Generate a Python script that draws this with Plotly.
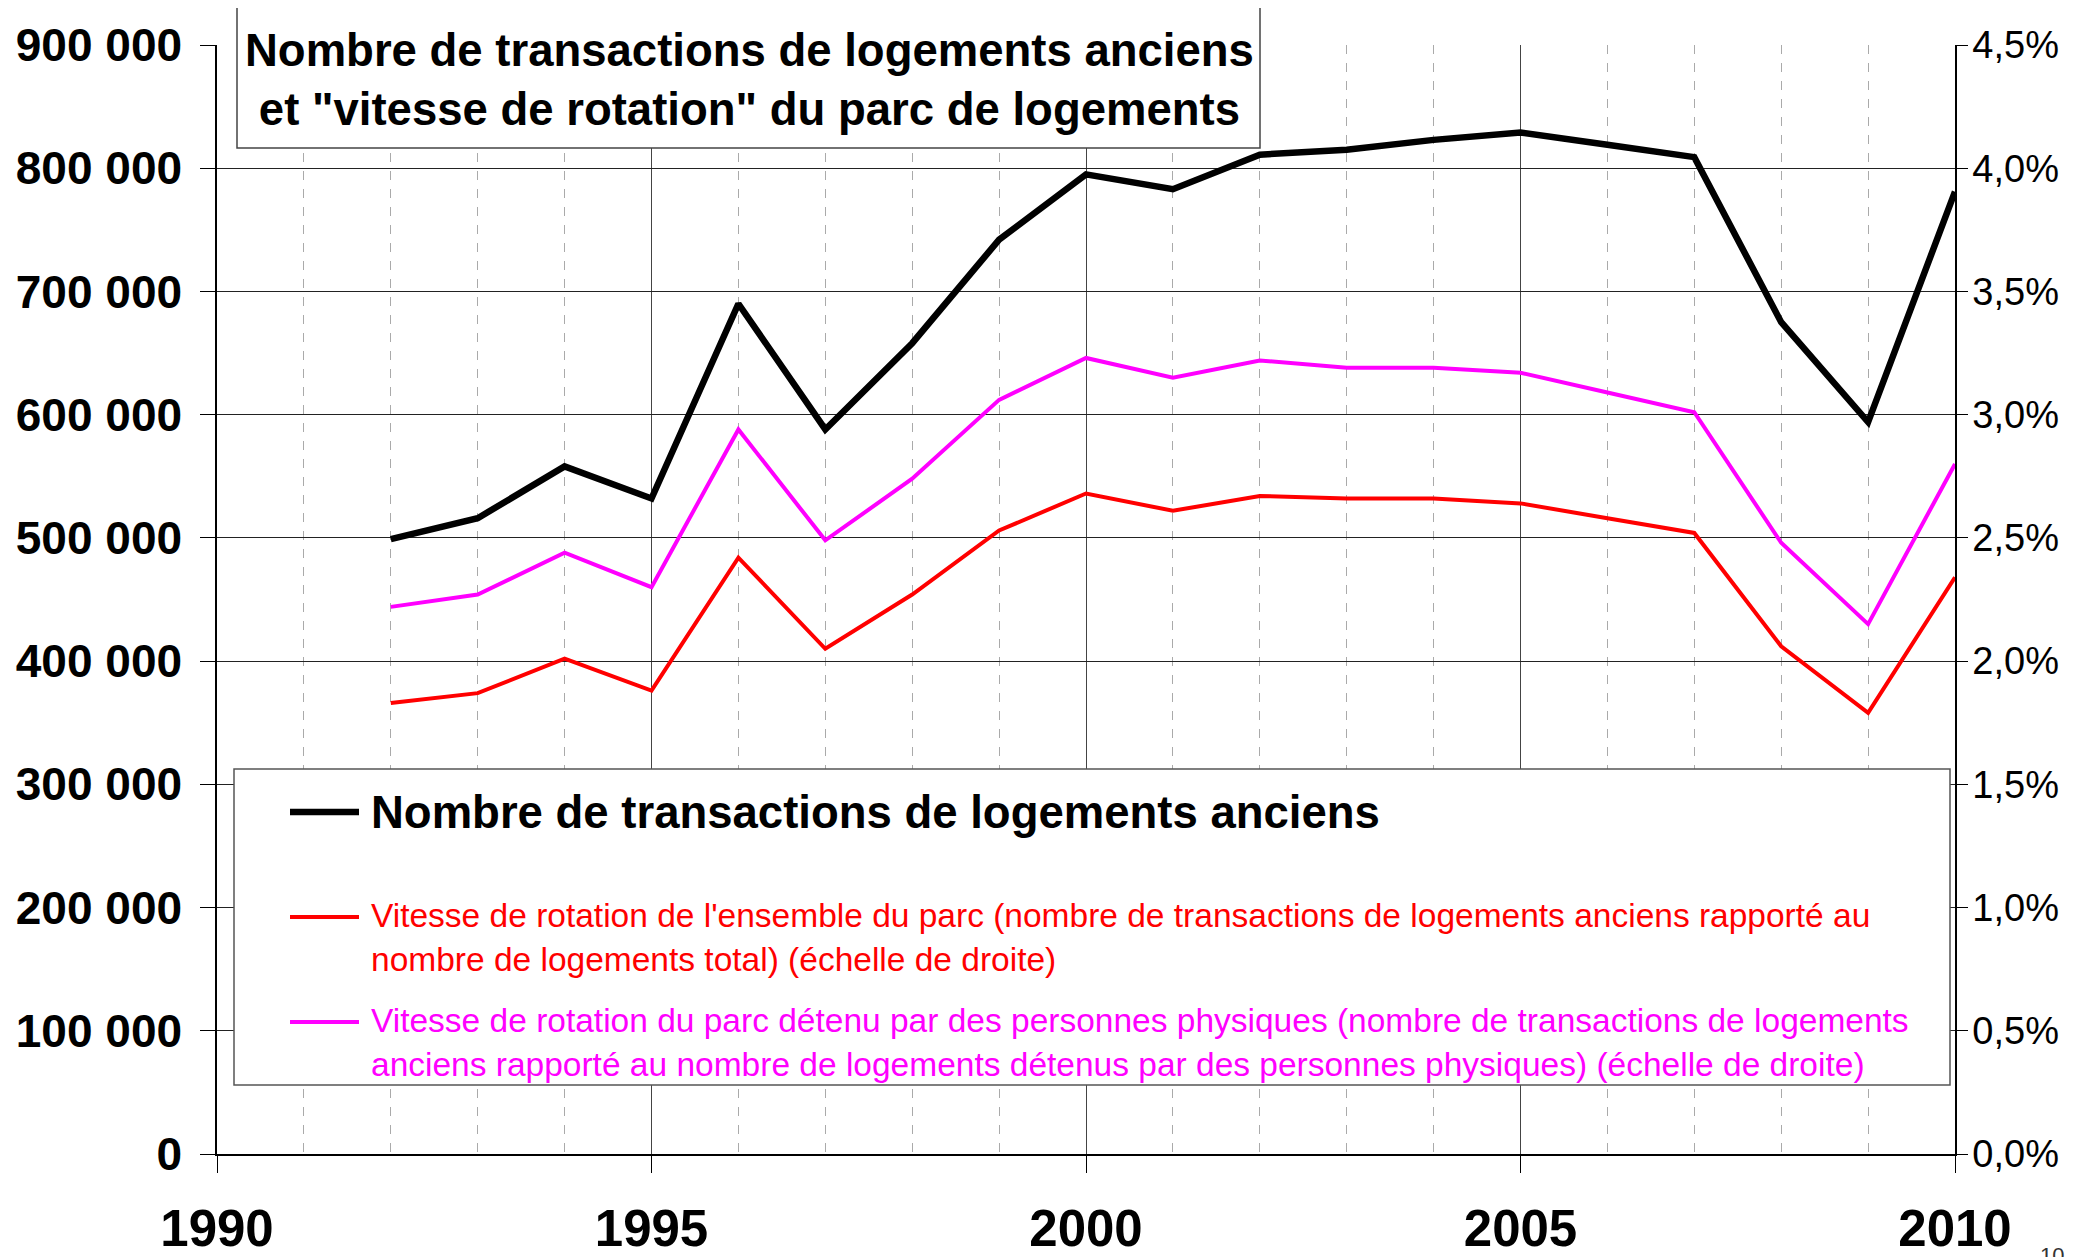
import plotly.graph_objects as go

# ---- data ----
years = list(range(1992, 2011))
transactions = [499000, 516000, 558000, 532000, 690000, 588000, 658000, 742000,
                795000, 783000, 811000, 815000, 823000, 829000, 819000, 809000,
                675000, 594000, 781000]
rotation_total = [1.83, 1.87, 2.01, 1.88, 2.42, 2.05, 2.27, 2.53,
                  2.68, 2.61, 2.67, 2.66, 2.66, 2.64, 2.58, 2.52,
                  2.06, 1.79, 2.34]
rotation_phys = [2.22, 2.27, 2.44, 2.30, 2.94, 2.49, 2.74, 3.06,
                 3.23, 3.15, 3.22, 3.19, 3.19, 3.17, 3.09, 3.01,
                 2.48, 2.15, 2.80]
x_ticks = [1990, 1995, 2000, 2005, 2010]

title_text = "Nombre de transactions de logements anciens<br>et \"vitesse de rotation\" du parc de logements"
name_trans = "Nombre de transactions de logements anciens"
name_total = ("Vitesse de rotation de l'ensemble du parc (nombre de transactions de logements anciens rapporté au<br>"
              "nombre de logements total) (échelle de droite)")
name_phys = ("Vitesse de rotation du parc détenu par des personnes physiques (nombre de transactions de logements<br>"
             "anciens rapporté au nombre de logements détenus par des personnes physiques) (échelle de droite)")

FONT = "Liberation Sans, Arial, sans-serif"
OFF = 8  # default page body margin
W, H = 2087 - OFF, 1257 - OFF
# plot area in page pixels: x 217..1955, y 45..1154
L, R = 217 - OFF, W - (1955 - OFF)
T, B = 45 - OFF, H - (1154 - OFF)
PW, PH = W - L - R, H - T - B


def px_x(p):
    return (p - OFF - L) / PW


def px_y(p):
    return (H - B - (p - OFF)) / PH


fig = go.Figure()
fig.add_trace(go.Scatter(x=years, y=rotation_total, yaxis="y2", mode="lines",
                         line=dict(color="#ff0000", width=4), name="total", showlegend=False))
fig.add_trace(go.Scatter(x=years, y=rotation_phys, yaxis="y2", mode="lines",
                         line=dict(color="#ff00ff", width=4), name="phys", showlegend=False))
fig.add_trace(go.Scatter(x=years, y=transactions, yaxis="y", mode="lines",
                         line=dict(color="#000000", width=6.5), name="trans", showlegend=False))

shapes = []
annotations = []

# title box
shapes.append(dict(type="rect", xref="paper", yref="paper",
                   x0=px_x(237), x1=px_x(1260), y0=px_y(148), y1=px_y(7),
                   line=dict(color="#444", width=1.5), fillcolor="white", layer="above"))
annotations.append(dict(xref="paper", yref="paper", x=px_x(749), y=px_y(80),
                        xanchor="center", yanchor="middle", showarrow=False,
                        text="<b>" + title_text + "</b>",
                        font=dict(family=FONT, size=45.5, color="black")))

# legend box
shapes.append(dict(type="rect", xref="paper", yref="paper",
                   x0=px_x(234), x1=px_x(1950), y0=px_y(1085), y1=px_y(769),
                   line=dict(color="#555", width=1.5), fillcolor="white", layer="above"))
legend_items = [
    (name_trans, "#000000", 6.5, 812, 812, 45.5, True),
    (name_total, "#ff0000", 4, 917, 937, 33.5, False),
    (name_phys, "#ff00ff", 4, 1022, 1042, 33.5, False),
]
for txt, col, lw, ys, yt, fs, bold in legend_items:
    shapes.append(dict(type="line", xref="paper", yref="paper",
                       x0=px_x(290), x1=px_x(359), y0=px_y(ys), y1=px_y(ys),
                       line=dict(color=col, width=lw), layer="above"))
    annotations.append(dict(xref="paper", yref="paper", x=px_x(369), y=px_y(yt),
                            xanchor="left", yanchor="middle", align="left", showarrow=False,
                            text=("<b>" + txt + "</b>") if bold else txt,
                            font=dict(family=FONT, size=fs, color=col)))

# page number, mostly cut by the bottom edge
annotations.append(dict(xref="paper", yref="paper", x=px_x(2052), y=px_y(1241),
                        xanchor="center", yanchor="top", showarrow=False, text="10",
                        font=dict(family=FONT, size=22, color="#333")))

fig.update_layout(
    width=W, height=H, autosize=False,
    margin=dict(l=L, r=R, t=T, b=B, pad=0, autoexpand=False),
    paper_bgcolor="white", plot_bgcolor="white",
    separators=", ",
    showlegend=False,
    shapes=shapes, annotations=annotations,
    xaxis=dict(range=[1990, 2010], tickvals=x_ticks, ticktext=[str(v) for v in x_ticks],
               automargin=False,
               showgrid=True, gridcolor="#444", gridwidth=1,
               minor=dict(tick0=1990, dtick=1, showgrid=True, gridcolor="#aaa",
                          griddash="dash", gridwidth=1, ticks=""),
               ticks="outside", ticklen=17, tickcolor="black", tickwidth=1,
               showline=True, linecolor="black", linewidth=1.5, zeroline=False,
               ticklabelstandoff=12,
               tickfont=dict(family=FONT, size=51, color="black", weight="bold")),
    yaxis=dict(range=[0, 900000], dtick=100000, tickformat=",d", automargin=False,
               showgrid=True, gridcolor="#222", gridwidth=1, zeroline=False,
               ticks="outside", ticklen=15, tickcolor="black",
               showline=True, linecolor="black", linewidth=1.5,
               ticklabelstandoff=9,
               tickfont=dict(family=FONT, size=46, color="black", weight="bold")),
    yaxis2=dict(range=[0, 4.5], dtick=0.5, tickformat=".1f", ticksuffix="%",
                overlaying="y", side="right", showgrid=False, zeroline=False,
                automargin=False,
                ticks="outside", ticklen=11, tickcolor="black",
                showline=True, linecolor="black", linewidth=1.5,
                ticklabelstandoff=-3,
                tickfont=dict(family=FONT, size=38, color="black")),
)

fig.write_html("out.html")
